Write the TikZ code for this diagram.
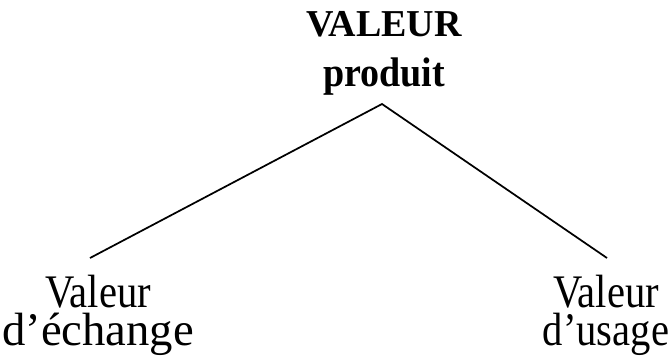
\documentclass[tikz,border=0pt]{standalone}
\usepackage{fontspec}
\setmainfont{Liberation Serif}
\newfontfamily\narrowserif[FakeStretch=0.87]{Liberation Serif}
\newfontfamily\midserif[FakeStretch=0.92]{Liberation Serif}
\begin{document}
\begin{tikzpicture}[x=0.75pt,y=-0.75pt,
  titletext/.style={inner sep=0pt,align=center,anchor=north,font=\bfseries\fontsize{28.5}{37.5}\selectfont},
  leaftext/.style={inner sep=0pt,align=center,anchor=north,font=\fontsize{35}{28.5}\selectfont},
  branch/.style={line width=1.3pt}]
\useasboundingbox (0,0) rectangle (670,355);
\node[titletext] (top) at (384,11) {VALEUR\\{\midserif\bfseries\fontsize{31}{37.5}\selectfont produit}};
\coordinate (apex) at (382,104);
\coordinate (lend) at (90,258);
\coordinate (rend) at (607,258);
\node[leaftext] (left) at (98,275) {{\narrowserif Valeur}\\d’échange};
\node[leaftext] (right) at (606,275) {{\narrowserif Valeur}\\{\narrowserif d’usage}};
\draw[branch] (lend) -- (apex) -- (rend);
\end{tikzpicture}
\end{document}
